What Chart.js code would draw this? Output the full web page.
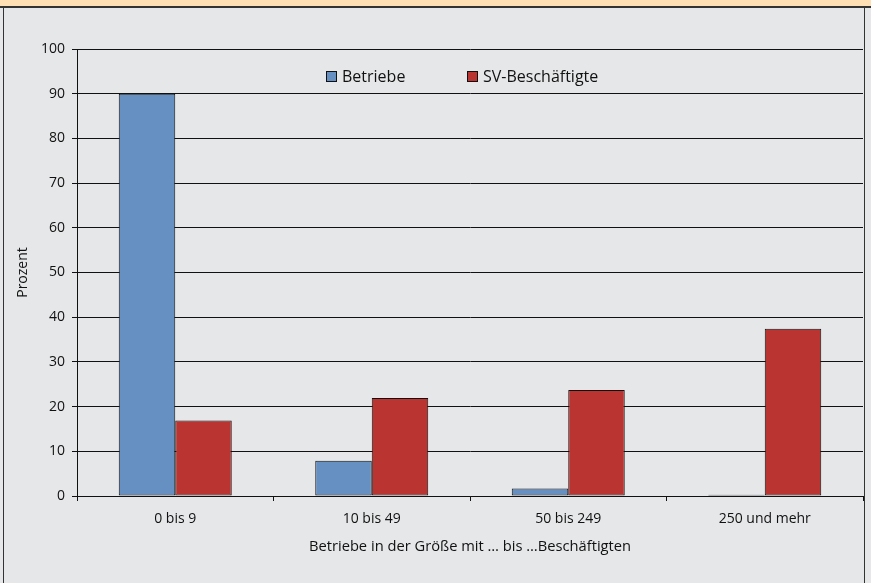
<!DOCTYPE html>
<html lang="de">
<head>
<meta charset="utf-8">
<title>Betriebe und SV-Beschäftigte nach Betriebsgröße</title>
<script src="https://cdn.jsdelivr.net/npm/chart.js@4.4.1/dist/chart.umd.min.js"></script>
<style>
    html, body { margin: 0; padding: 0; }
    body { width: 871px; height: 583px; background: #e6e7e9; position: relative; overflow: hidden; font-family: "Open Sans", sans-serif; }
    .band { position: absolute; left: 0; top: 0; width: 871px; height: 6px; background: #ffe0b4; border-bottom: 2px solid #333; }
    .frame { position: absolute; left: 3px; top: 8px; width: 860px; height: 575px; border-left: 1px solid #333; border-right: 1px solid #333; }
    .chart-box { position: absolute; left: 0; top: 0; width: 871px; height: 583px; }
</style>
</head>
<body>
<div class="frame"></div>
<div class="band"></div>
<div class="chart-box"><canvas id="sizeChart"></canvas></div>
<script>
const categories = ['0 bis 9', '10 bis 49', '50 bis 249', '250 und mehr'];
const betriebe = [90, 7.9, 1.7, 0.3];
const beschaeftigte = [16.9, 21.9, 23.7, 37.4];
const yTicks = [0, 10, 20, 30, 40, 50, 60, 70, 80, 90, 100];

const blue = '#6690c2';
const red = '#ba3431';
const edge = '#111111';

// Legende sitzt im Diagramm, oben mittig
const innerLegend = {
    id: 'innerLegend',
    afterDraw(chart) {
        const ctx = chart.ctx;
        const items = [
            { x: 326, label: chart.data.datasets[0].label, color: blue },
            { x: 467, label: chart.data.datasets[1].label, color: red }
        ];
        ctx.save();
        ctx.font = '16px "Open Sans", sans-serif';
        ctx.textBaseline = 'middle';
        items.forEach(function (it) {
            ctx.fillStyle = it.color;
            ctx.fillRect(it.x, 71, 11, 11);
            ctx.strokeStyle = edge;
            ctx.lineWidth = 1;
            ctx.strokeRect(it.x + 0.5, 71.5, 10, 10);
            ctx.fillStyle = '#111';
            ctx.fillText(it.label, it.x + 16, 77);
        });
        ctx.restore();
    }
};

new Chart(document.getElementById('sizeChart'), {
    type: 'bar',
    data: {
        labels: categories,
        datasets: [{
            label: 'Betriebe',
            data: betriebe,
            backgroundColor: blue,
            borderColor: edge,
            borderWidth: 1,
            borderSkipped: false
        }, {
            label: 'SV-Beschäftigte',
            data: beschaeftigte,
            backgroundColor: red,
            borderColor: edge,
            borderWidth: 1,
            borderSkipped: false
        }]
    },
    options: {
        responsive: true,
        maintainAspectRatio: false,
        animation: false,
        datasets: {
            bar: { barPercentage: 1, categoryPercentage: 0.575 }
        },
        layout: {
            padding: { top: 49, right: 8, bottom: 20, left: 0 }
        },
        scales: {
            x: {
                afterFit: function (s) { s.height = 67; },
                border: { color: '#111', width: 1 },
                grid: { drawOnChartArea: false, drawTicks: true, tickLength: 5, color: '#111', offset: true },
                ticks: { color: '#111', padding: 10, font: { family: '"Open Sans", sans-serif', size: 14 } },
                title: {
                    display: true,
                    text: 'Betriebe in der Größe mit … bis …Beschäftigten',
                    color: '#111',
                    padding: { top: 4, bottom: 7 },
                    font: { family: '"Open Sans", sans-serif', size: 14.7 }
                }
            },
            y: {
                min: 0,
                max: 100,
                afterFit: function (s) { s.width = 77; },
                afterBuildTicks: function (s) { s.ticks = yTicks.map(function (v) { return { value: v }; }); },
                border: { color: '#111', width: 1 },
                grid: { color: '#111', lineWidth: 1, tickLength: 5 },
                ticks: { color: '#111', padding: 7, font: { family: '"Open Sans", sans-serif', size: 14 } },
                title: {
                    display: true,
                    text: 'Prozent',
                    color: '#111',
                    padding: { top: 15, bottom: 0 },
                    font: { family: '"Open Sans", sans-serif', size: 14 }
                }
            }
        },
        plugins: {
            legend: { display: false },
            tooltip: { enabled: false }
        }
    },
    plugins: [innerLegend]
});
</script>
</body>
</html>
